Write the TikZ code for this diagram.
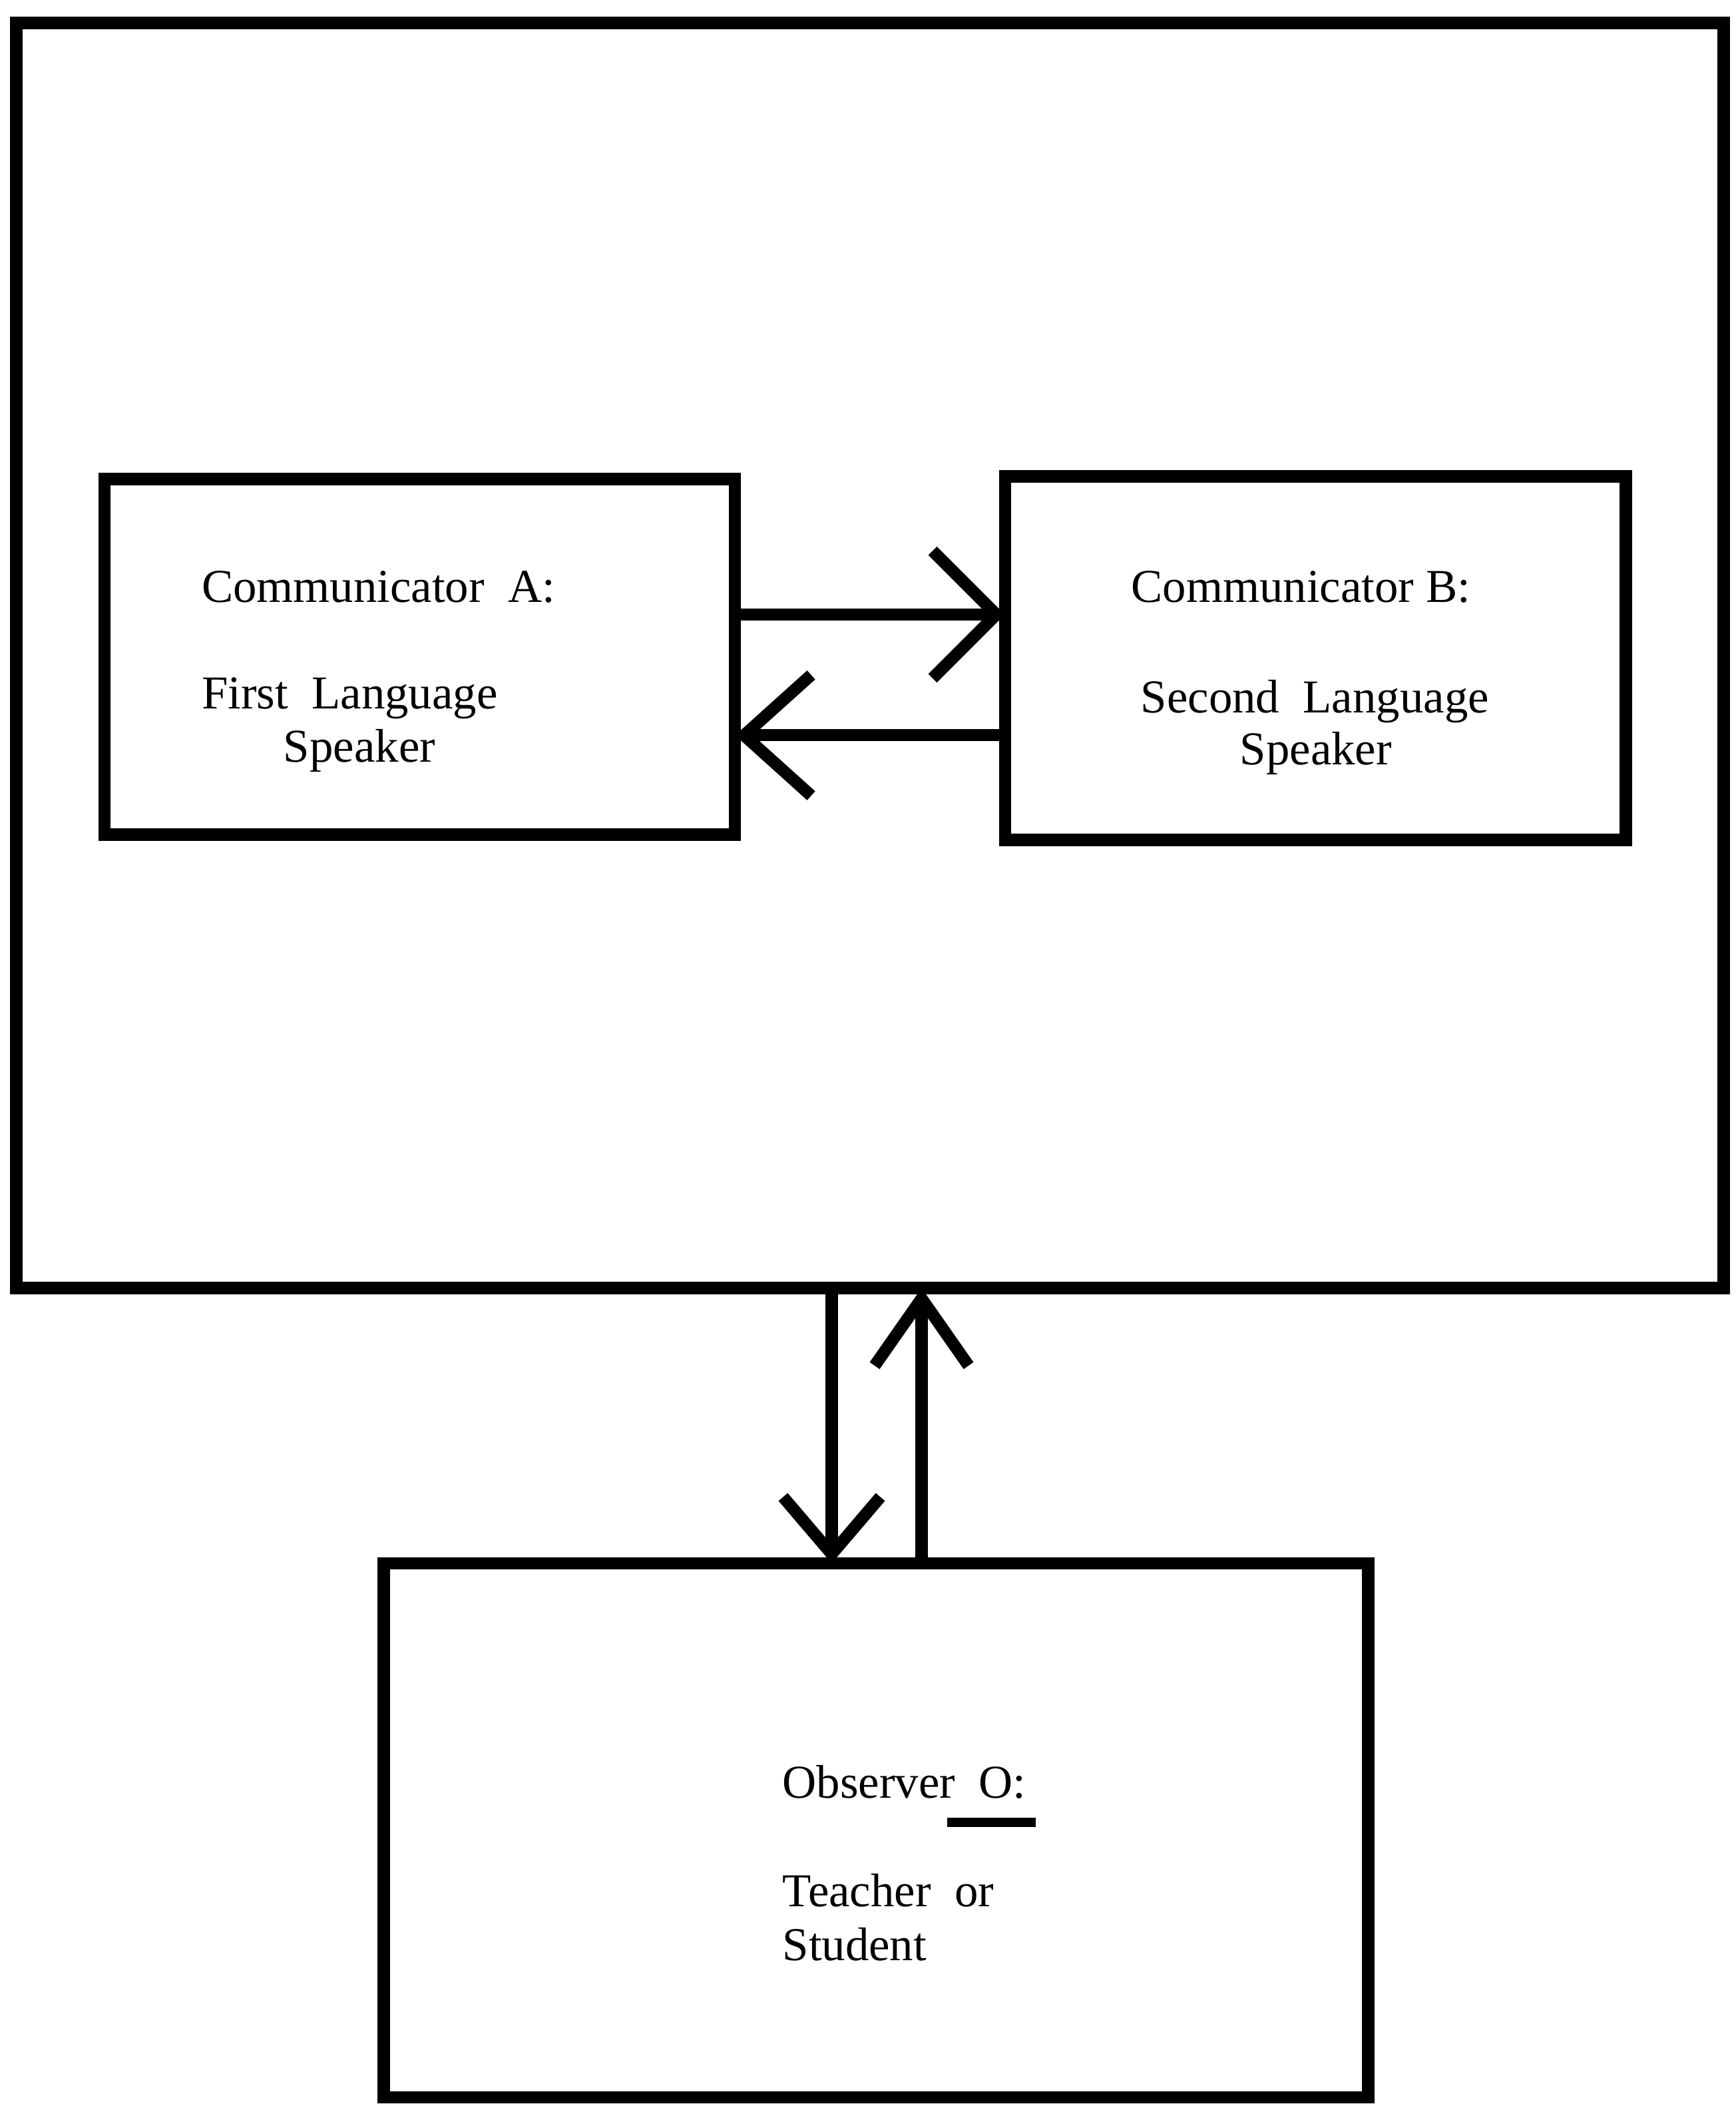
\documentclass[tikz,border=0pt]{standalone}
\usepackage{fontspec}
\setmainfont{Liberation Serif}
\usetikzlibrary{arrows.meta}
\begin{document}
\begin{tikzpicture}[x=0.02cm,y=-0.02cm,
  box/.style={draw,line width=0.18cm,inner sep=0pt,outer sep=0pt},
  conn/.style={line width=0.18cm},
  lbl/.style={anchor=base west,inner sep=0pt,font=\fontsize{20}{24}\selectfont}]
\useasboundingbox (0,0) rectangle (1294,1568);
\node[box,minimum width=25.46cm,minimum height=18.86cm] (outer) at (648.5,488.5) {};
\node[box,minimum width=9.4cm,minimum height=5.3cm] (A) at (313,489.5) {};
\node[box,minimum width=9.26cm,minimum height=5.42cm] (B) at (980.5,490.5) {};
\node[box,minimum width=14.68cm,minimum height=7.96cm] (O) at (653,1364) {};
% labels
\node[lbl] (a1) at (150,449) {Communicator\ \ A:};
\node[lbl] (a2) at (150,528) {First\ \ Language};
\node[lbl] (a3) at (211,568) {Speaker};
\node[lbl] (b1) at (843,449) {Communicator\ B:};
\node[lbl] (b2) at (850,531) {Second\ \ Language};
\node[lbl] (b3) at (924,570) {Speaker};
\node[lbl] (o1) at (583,1340) {Observer\ \ O:};
\node[lbl] (o2) at (583,1421) {Teacher\ \ or};
\node[lbl] (o3) at (583,1461) {Student};
\draw[line width=0.14cm] (706,1358) -- (772,1358);
% connectors
\draw[conn,-{Straight Barb[length=0.95cm,width=1.9cm,line width=0.18cm]}] (A.east |- 0,458) -- (B.west |- 0,458);
\draw[conn,-{Straight Barb[length=1.0cm,width=1.8cm,line width=0.18cm]}] (B.west |- 0,548) -- (A.east |- 0,548);
\draw[conn,-{Straight Barb[length=0.85cm,width=1.45cm,line width=0.18cm]}] (outer.south -| 620,0) -- (O.north -| 620,0);
\draw[conn,-{Straight Barb[length=1.0cm,width=1.4cm,line width=0.18cm]}] (O.north -| 687,0) -- (outer.south -| 687,0);
\end{tikzpicture}
\end{document}
